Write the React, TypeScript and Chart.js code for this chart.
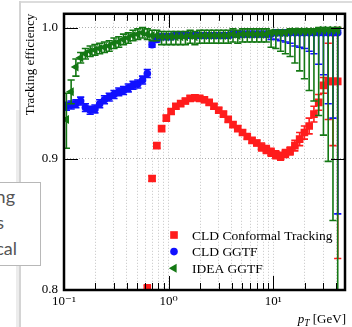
import React, { useEffect, useRef } from "react";
import { Chart, registerables } from "chart.js";

Chart.register(...registerables);

const SERIF = '"Liberation Serif", "DejaVu Serif", serif';

// transverse-momentum bin centres (GeV)
const PT = [
  0.1054, 0.1170, 0.1299, 0.1443, 0.1602, 0.1779, 0.1976, 0.2194, 0.2436, 0.2705,
  0.3004, 0.3336, 0.3705, 0.4114, 0.4568, 0.5073, 0.5633, 0.6255, 0.6946, 0.7713,
  0.8565, 0.9511, 1.0562, 1.1729, 1.3024, 1.4463, 1.6061, 1.7834, 1.9804, 2.1991,
  2.4420, 2.7117, 3.0113, 3.3439, 3.7132, 4.1233, 4.5787, 5.0845, 5.6461, 6.2696,
  6.9621, 7.7311, 8.5850, 9.5332, 10.586, 11.755, 13.054, 14.496, 16.097, 17.875,
  19.849, 22.041, 24.476, 27.179, 30.181, 33.515, 37.216, 41.327,
];

// CLD Conformal Tracking
const RED_EFF = [
  null, null, null, null, null, null, null, null, null, null,
  null, null, null, null, null, null, null, 0.801, 0.885, 0.910,
  0.923, 0.931, 0.936, 0.940, 0.942, 0.944, 0.946, 0.9465, 0.946, 0.945,
  0.943, 0.940, 0.937, 0.934, 0.930, 0.926, 0.923, 0.920, 0.917, 0.914,
  0.912, 0.909, 0.907, 0.905, 0.903, 0.902, 0.904, 0.906, 0.910, 0.915,
  0.920, 0.925, 0.934, 0.943, 0.956, 0.959, 0.959, 0.959,
];
const RED_LO = [
  null, null, null, null, null, null, null, null, null, null,
  null, null, null, null, null, null, null, 0.003, 0.002, 0.002,
  0.002, 0.002, 0.002, 0.002, 0.002, 0.002, 0.002, 0.002, 0.002, 0.002,
  0.002, 0.002, 0.002, 0.002, 0.002, 0.002, 0.002, 0.002, 0.002, 0.002,
  0.002, 0.003, 0.003, 0.003, 0.003, 0.003, 0.003, 0.003, 0.004, 0.005,
  0.005, 0.006, 0.006, 0.006, 0.006, 0.029, 0.049, 0.135,
];
const RED_HI = [
  null, null, null, null, null, null, null, null, null, null,
  null, null, null, null, null, null, null, 0.003, 0.002, 0.002,
  0.002, 0.002, 0.002, 0.002, 0.002, 0.002, 0.002, 0.002, 0.002, 0.002,
  0.002, 0.002, 0.002, 0.002, 0.002, 0.002, 0.002, 0.002, 0.002, 0.002,
  0.002, 0.003, 0.003, 0.003, 0.003, 0.003, 0.003, 0.003, 0.004, 0.005,
  0.005, 0.006, 0.006, 0.006, 0.006, 0.029, 0.035, 0.041,
];

// CLD GGTF
const BLUE_EFF = [
  0.940, 0.941, 0.942, 0.944, 0.939, 0.937, 0.938, 0.942, 0.945, 0.947,
  0.949, 0.951, 0.952, 0.954, 0.956, 0.957, 0.960, 0.965, 0.987, 0.991,
  0.993, 0.993, 0.993, 0.994, 0.994, 0.994, 0.994, 0.994, 0.994, 0.994,
  0.994, 0.994, 0.994, 0.994, 0.994, 0.995, 0.995, 0.995, 0.995, 0.995,
  0.995, 0.995, 0.995, 0.995, 0.996, 0.996, 0.996, 0.996, 0.996, 0.996,
  0.996, 0.996, 0.996, 0.996, 0.996, 0.996, 0.996, 0.996,
];
const BLUE_LO = [
  0.003, 0.003, 0.003, 0.003, 0.003, 0.003, 0.003, 0.003, 0.003, 0.003,
  0.003, 0.003, 0.003, 0.003, 0.003, 0.003, 0.003, 0.003, 0.002, 0.002,
  0.002, 0.002, 0.002, 0.002, 0.002, 0.002, 0.002, 0.002, 0.002, 0.002,
  0.002, 0.002, 0.002, 0.002, 0.002, 0.002, 0.002, 0.002, 0.002, 0.002,
  0.002, 0.002, 0.002, 0.004, 0.005, 0.006, 0.007, 0.008, 0.010, 0.011,
  0.012, 0.014, 0.016, 0.024, 0.032, 0.054, 0.065, 0.138,
];
const BLUE_HI = [
  0.003, 0.003, 0.003, 0.003, 0.003, 0.003, 0.003, 0.003, 0.003, 0.003,
  0.003, 0.003, 0.003, 0.003, 0.003, 0.003, 0.003, 0.003, 0.002, 0.002,
  0.002, 0.002, 0.002, 0.002, 0.002, 0.002, 0.002, 0.002, 0.002, 0.002,
  0.002, 0.002, 0.002, 0.002, 0.002, 0.002, 0.002, 0.002, 0.002, 0.002,
  0.002, 0.002, 0.002, 0.002, 0.002, 0.002, 0.002, 0.002, 0.002, 0.002,
  0.002, 0.002, 0.002, 0.002, 0.002, 0.002, 0.002, 0.002,
];

// IDEA GGTF
const GREEN_EFF = [
  0.930, 0.951, 0.970, 0.977, 0.980, 0.982, 0.983, 0.984, 0.985, 0.986,
  0.988, 0.989, 0.991, 0.992, 0.994, 0.995, 0.996, 0.995, 0.994, 0.994,
  0.993, 0.993, 0.993, 0.993, 0.993, 0.993, 0.994, 0.993, 0.994, 0.994,
  0.994, 0.994, 0.994, 0.994, 0.994, 0.995, 0.994, 0.995, 0.995, 0.995,
  0.995, 0.995, 0.995, 0.996, 0.996, 0.996, 0.996, 0.997, 0.997, 0.997,
  0.997, 0.997, 0.997, 0.998, 0.998, 0.998, 0.998, 0.998,
];
const GREEN_LO = [
  0.022, 0.009, 0.007, 0.004, 0.004, 0.004, 0.004, 0.004, 0.004, 0.004,
  0.004, 0.004, 0.004, 0.004, 0.004, 0.004, 0.004, 0.004, 0.004, 0.004,
  0.006, 0.006, 0.006, 0.006, 0.006, 0.006, 0.006, 0.006, 0.006, 0.006,
  0.006, 0.006, 0.006, 0.006, 0.006, 0.006, 0.006, 0.006, 0.006, 0.006,
  0.006, 0.006, 0.006, 0.011, 0.012, 0.014, 0.016, 0.019, 0.024, 0.030,
  0.036, 0.045, 0.053, 0.065, 0.080, 0.100, 0.145, 0.300,
];
const GREEN_HI = [
  0.020, 0.009, 0.006, 0.004, 0.004, 0.004, 0.004, 0.004, 0.004, 0.004,
  0.004, 0.004, 0.004, 0.004, 0.004, 0.004, 0.004, 0.004, 0.004, 0.004,
  0.004, 0.004, 0.004, 0.004, 0.004, 0.004, 0.004, 0.004, 0.004, 0.004,
  0.004, 0.004, 0.004, 0.004, 0.004, 0.004, 0.004, 0.004, 0.004, 0.004,
  0.004, 0.004, 0.004, 0.002, 0.002, 0.002, 0.002, 0.002, 0.002, 0.002,
  0.002, 0.002, 0.002, 0.002, 0.002, 0.002, 0.002, 0.002,
];

const SERIES_LABELS = ["CLD Conformal Tracking", "CLD GGTF", "IDEA GGTF"];
const SERIES_COLORS = ["#ff1c1c", "#1010ff", "#147814"];

const X_TICKS = [
  0.1, 0.2, 0.3, 0.4, 0.5, 0.6, 0.7, 0.8, 0.9,
  1, 2, 3, 4, 5, 6, 7, 8, 9,
  10, 20, 30, 40,
];
const X_TICK_LABELS = [
  "10⁻¹", "", "", "", "", "", "", "", "",
  "10⁰", "", "", "", "", "", "", "", "",
  "10¹", "", "", "",
];
const Y_TICKS = [0.8, 0.9, 1.0];
const Y_TICK_LABELS = ["0.8", "0.9", "1.0"];

const Y_TITLE = "Tracking efficiency";
const X_TITLE_VAR = "p";
const X_TITLE_SUB = "T";
const X_TITLE_UNIT = " [GeV]";

const TOOLTIP_LINES = ["ng", "s", "cal"];

const SERIES = [
  { eff: RED_EFF, lo: RED_LO, hi: RED_HI, style: "rect", radius: 5.4, rotation: 0 },
  { eff: BLUE_EFF, lo: BLUE_LO, hi: BLUE_HI, style: "circle", radius: 3.8, rotation: 0 },
  { eff: GREEN_EFF, lo: GREEN_LO, hi: GREEN_HI, style: "triangle", radius: 5.2, rotation: -90 },
];

const errorBarPlugin = {
  id: "errorBars",
  beforeDatasetDraw(chart: any, args: any) {
    const k = chart.data.datasets[args.index].seriesIndex;
    const s = SERIES[k];
    if (!s) return;
    const { ctx, chartArea: a, scales } = chart;
    const x = scales.x;
    const y = scales.y;
    const color = SERIES_COLORS[k];
    ctx.save();
    ctx.beginPath();
    ctx.rect(a.left, a.top, a.right - a.left, a.bottom - a.top);
    ctx.clip();
    ctx.strokeStyle = color;
    ctx.lineWidth = 1.6;
    const cap = 3.6;
    const px = PT.map((p) => x.getPixelForValue(p));
    for (let i = 0; i < PT.length; i++) {
      const v = s.eff[i];
      if (v == null) continue;
      const cx = px[i];
      const halfL = i > 0 ? (cx - px[i - 1]) / 2 : (px[1] - px[0]) / 2;
      const halfR = i < PT.length - 1 ? (px[i + 1] - cx) / 2 : (cx - px[i - 1]) / 2;
      const yc = y.getPixelForValue(v);
      const yt = y.getPixelForValue(v + (s.hi[i] as number));
      const yb = y.getPixelForValue(v - (s.lo[i] as number));
      ctx.beginPath();
      ctx.moveTo(cx, yt);
      ctx.lineTo(cx, yb);
      ctx.moveTo(cx - cap, yt);
      ctx.lineTo(cx + cap, yt);
      ctx.moveTo(cx - cap, yb);
      ctx.lineTo(cx + cap, yb);
      ctx.moveTo(cx - halfL, yc);
      ctx.lineTo(cx + halfR, yc);
      ctx.stroke();
    }
    ctx.restore();
  },
};

function drawMarker(ctx: CanvasRenderingContext2D, style: string, cx: number, cy: number, r: number) {
  ctx.beginPath();
  if (style === "rect") {
    const h = r * Math.SQRT1_2;
    ctx.rect(cx - h, cy - h, 2 * h, 2 * h);
  } else if (style === "circle") {
    ctx.arc(cx, cy, r, 0, Math.PI * 2);
  } else {
    // left-pointing triangle
    ctx.moveTo(cx - r, cy);
    ctx.lineTo(cx + r * 0.5, cy - r * 0.866);
    ctx.lineTo(cx + r * 0.5, cy + r * 0.866);
    ctx.closePath();
  }
  ctx.fill();
}

const framePlugin = {
  id: "frameAndLegend",
  afterDraw(chart: any) {
    const { ctx, chartArea: a, scales } = chart;
    const x = scales.x;
    const y = scales.y;
    ctx.save();
    // inward ticks on all four sides
    ctx.strokeStyle = "#000";
    ctx.lineWidth = 1;
    ctx.beginPath();
    X_TICKS.forEach((v, i) => {
      const px = Math.round(x.getPixelForValue(v)) + 0.5;
      const len = X_TICK_LABELS[i] ? 14 : 7;
      ctx.moveTo(px, a.bottom);
      ctx.lineTo(px, a.bottom - len);
      ctx.moveTo(px, a.top);
      ctx.lineTo(px, a.top + len);
    });
    Y_TICKS.forEach((v) => {
      const py = Math.round(y.getPixelForValue(v)) + 0.5;
      ctx.moveTo(a.left, py);
      ctx.lineTo(a.left + 14, py);
      ctx.moveTo(a.right, py);
      ctx.lineTo(a.right - 14, py);
    });
    ctx.stroke();
    // frame
    ctx.lineWidth = 2.5;
    ctx.strokeRect(a.left, a.top, a.right - a.left, a.bottom - a.top);

    // legend
    const mx = a.left + 110;
    const tx = a.left + 128;
    const y0 = a.bottom - 55;
    const dy = 16.6;
    ctx.font = `13.5px ${SERIF}`;
    ctx.textBaseline = "middle";
    ctx.textAlign = "left";
    SERIES_LABELS.forEach((label, i) => {
      const yy = y0 + i * dy;
      ctx.fillStyle = SERIES_COLORS[i];
      drawMarker(ctx, SERIES[i].style, mx, yy, SERIES[i].radius);
      ctx.fillStyle = "#000";
      ctx.fillText(label, tx, yy + 1);
    });

    // x-axis title with subscript, right aligned
    const base = 323;
    ctx.textBaseline = "alphabetic";
    ctx.font = `13px ${SERIF}`;
    const wUnit = ctx.measureText(X_TITLE_UNIT).width;
    ctx.font = `italic 9.5px ${SERIF}`;
    const wSub = ctx.measureText(X_TITLE_SUB).width;
    ctx.font = `italic 13px ${SERIF}`;
    const wVar = ctx.measureText(X_TITLE_VAR).width;
    let cx = a.right + 1 - wUnit - wSub - wVar;
    ctx.fillStyle = "#000";
    ctx.fillText(X_TITLE_VAR, cx, base);
    cx += wVar;
    ctx.font = `italic 9.5px ${SERIF}`;
    ctx.fillText(X_TITLE_SUB, cx, base + 2.5);
    cx += wSub;
    ctx.font = `13px ${SERIF}`;
    ctx.fillText(X_TITLE_UNIT, cx, base);
    ctx.restore();
  },
};

export default function App() {
  const ref = useRef<HTMLCanvasElement | null>(null);

  useEffect(() => {
    if (!ref.current) return;
    const datasets = SERIES.map((s, k) => ({
      label: SERIES_LABELS[k],
      seriesIndex: k,
      data: PT.map((p, i) => ({ x: p, y: s.eff[i] })).filter((d) => d.y != null),
      showLine: false,
      pointStyle: s.style,
      pointRadius: s.radius,
      pointRotation: s.rotation,
      pointBorderWidth: 0,
      pointBackgroundColor: SERIES_COLORS[k],
      pointBorderColor: SERIES_COLORS[k],
      backgroundColor: SERIES_COLORS[k],
      borderColor: SERIES_COLORS[k],
      order: 2 - k,
    }));
    const chart = new Chart(ref.current, {
      type: "scatter",
      data: { datasets },
      plugins: [errorBarPlugin, framePlugin],
      options: {
        animation: false,
        responsive: false,
        devicePixelRatio: 1,
        events: [],
        layout: { padding: { left: 0, top: 8, right: 7, bottom: 0 } },
        plugins: { legend: { display: false }, tooltip: { enabled: false } },
        scales: {
          x: {
            type: "logarithmic",
            min: 0.1,
            max: 48.5,
            afterFit: (s: any) => {
              s.height = 37;
            },
            afterBuildTicks: (s: any) => {
              s.ticks = X_TICKS.map((v) => ({ value: v }));
            },
            ticks: {
              autoSkip: false,
              maxRotation: 0,
              minRotation: 0,
              padding: 4,
              color: "#000",
              font: { family: SERIF, size: 13 },
              callback: (_v: any, i: number) => X_TICK_LABELS[i],
            },
            grid: { color: "#c4c4c4", lineWidth: 1, drawTicks: false },
            border: { display: false, dash: [1, 2] },
          },
          y: {
            type: "linear",
            min: 0.8,
            max: 1.0105,
            afterFit: (s: any) => {
              s.width = 64;
            },
            afterBuildTicks: (s: any) => {
              s.ticks = Y_TICKS.map((v) => ({ value: v }));
            },
            ticks: {
              padding: 6,
              color: "#000",
              font: { family: SERIF, size: 13 },
              callback: (_v: any, i: number) => Y_TICK_LABELS[i],
            },
            grid: { color: "#b0b0b0", lineWidth: 1, drawTicks: false },
            border: { display: false, dash: [1, 2] },
            title: {
              display: true,
              text: Y_TITLE,
              align: "end",
              color: "#000",
              font: { family: SERIF, size: 13 },
              padding: { top: 23, bottom: 0 },
            },
          },
        },
      } as any,
    });
    return () => chart.destroy();
  }, []);

  const tipFont = 'Lato, "Open Sans", sans-serif';
  const tipRight = [15, 4, 17];
  const tipTop = [184, 210, 236];

  return (
    <div
      style={{
        position: "fixed",
        left: 0,
        top: 0,
        width: 352,
        height: 327,
        overflow: "hidden",
        background: "#fff",
      }}
    >
      <div style={{ position: "absolute", left: 19, top: 1, width: 400, height: 2, background: "#dcdcdc" }} />
      <div style={{ position: "absolute", left: 19, top: 1, width: 2, height: 400, background: "#d4d4d4" }} />
      <div style={{ position: "absolute", left: 16, top: 110, width: 3, height: 300, background: "#ececec" }} />
      <canvas
        ref={ref}
        width={352}
        height={327}
        style={{ position: "absolute", left: 0, top: 0, width: 352, height: 327 }}
      />
      <div
        style={{
          position: "absolute",
          left: -60,
          top: 182,
          width: 101,
          height: 84,
          boxSizing: "border-box",
          border: "1px solid #b8b8b8",
          background: "#fff",
        }}
      />
      {TOOLTIP_LINES.map((t, i) => (
        <div
          key={i}
          style={{
            position: "absolute",
            left: tipRight[i] - 120,
            width: 120,
            top: tipTop[i],
            textAlign: "right",
            fontFamily: tipFont,
            fontSize: 18,
            lineHeight: "24px",
            color: "#555",
            whiteSpace: "nowrap",
          }}
        >
          {t}
        </div>
      ))}
    </div>
  );
}
